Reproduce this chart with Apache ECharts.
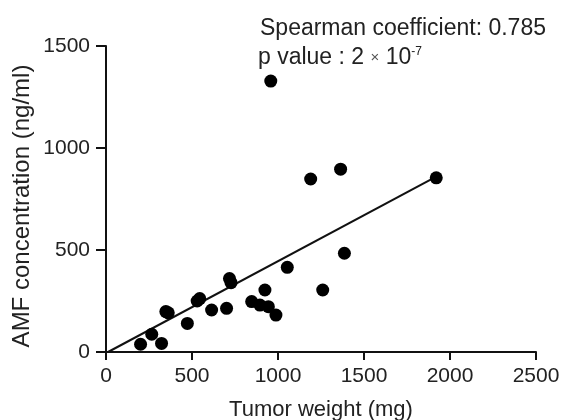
<!DOCTYPE html>
<html>
<head>
<meta charset="utf-8">
<script src="https://cdn.jsdelivr.net/npm/echarts@6/dist/echarts.min.js"></script>
<style>html,body{margin:0;padding:0;background:#fff}#c{width:563px;height:420px}</style>
</head>
<body>
<div id="c"></div>
<script>
const tumorWeight = [201, 266, 323, 348, 362, 473, 530, 545, 614, 701, 718, 727, 847, 895, 924, 944, 988, 1054, 958, 1190, 1260, 1364, 1386, 1920];
const amfConc =     [38,  87,  42,  198, 192, 140, 250, 262, 206, 214, 360, 340, 247, 230, 304, 222, 181, 415, 1328, 848, 304, 896, 484, 854];
const fitX = [12, 1920];
const fitY = [0, 860];
const xTicks = [0, 500, 1000, 1500, 2000, 2500];
const yTicks = [0, 500, 1000, 1500];

const pts = tumorWeight.map((x, i) => [x, amfConc[i]]);
const fit = fitX.map((x, i) => [x, fitY[i]]);
const font = 'Liberation Sans, Arial, sans-serif';
const chart = echarts.init(document.getElementById('c'));
chart.setOption({
  animation: false,
  grid: {left: 106, right: 27, top: 46, bottom: 68, containLabel: false, outerBoundsMode: 'none'},
  xAxis: {
    type: 'value', min: xTicks[0], max: xTicks[xTicks.length - 1], interval: xTicks[1] - xTicks[0],
    name: 'Tumor weight (mg)', nameLocation: 'middle', nameGap: 47,
    nameTextStyle: {fontFamily: font, fontSize: 22, color: '#222'},
    axisLine: {show: true, onZero: false, lineStyle: {color: '#111', width: 2}},
    axisTick: {show: true, length: 8, lineStyle: {color: '#111', width: 2}},
    axisLabel: {fontFamily: font, fontSize: 21, color: '#222', margin: 14, formatter: v => String(v)},
    splitLine: {show: false}
  },
  yAxis: {
    type: 'value', min: yTicks[0], max: yTicks[yTicks.length - 1], interval: yTicks[1] - yTicks[0],
    axisLine: {show: true, onZero: false, lineStyle: {color: '#111', width: 2}},
    axisTick: {show: true, length: 10, lineStyle: {color: '#111', width: 2}},
    axisLabel: {fontFamily: font, fontSize: 21, color: '#222', margin: 16, formatter: v => String(v)},
    splitLine: {show: false}
  },
  series: [
    {type: 'line', data: fit, symbol: 'none', lineStyle: {color: '#111', width: 2}, z: 2},
    {type: 'scatter', data: pts, symbol: 'circle', symbolSize: 13, itemStyle: {color: '#000', opacity: 1}, z: 3}
  ],
  graphic: [
    {type: 'text', x: 22, y: 206, rotation: Math.PI / 2, style: {text: 'AMF concentration (ng/ml)', font: '24px ' + font, fill: '#222', align: 'center', verticalAlign: 'middle'}},
    {type: 'text', left: 260, top: 17, style: {text: 'Spearman coefficient: 0.785', font: '23px ' + font, fill: '#222'}},
    {type: 'text', left: 258, top: 46, style: {
      text: '{a|p value : 2 }{b|×}{a| 10}{s|-7}',
      rich: {
        a: {fontFamily: font, fontSize: 23, fill: '#222', color: '#222'},
        b: {fontFamily: font, fontSize: 15, fill: '#555', color: '#555'},
        s: {fontFamily: font, fontSize: 12, fill: '#222', color: '#222', verticalAlign: 'top', padding: [0,0,10,0]}
      }
    }}
  ]
});
</script>
</body>
</html>
